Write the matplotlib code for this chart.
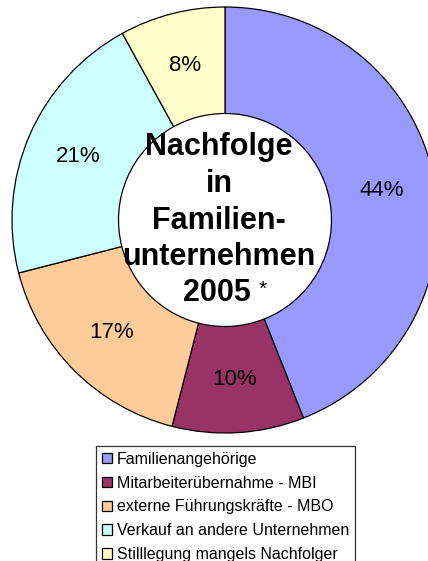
import matplotlib
matplotlib.use("Agg")
import matplotlib.pyplot as plt
from matplotlib.patches import Patch

plt.rcParams['font.family'] = ['Liberation Sans', 'DejaVu Sans']

# Daten
labels = ['Familienangehörige',
          'Mitarbeiterübernahme - MBI',
          'externe Führungskräfte - MBO',
          'Verkauf an andere Unternehmen',
          'Stilllegung mangels Nachfolger']
values = [44, 10, 17, 21, 8]
colors = ['#9999FF', '#993366', '#FFCC99', '#CCFFFF', '#FFFFCC']
title_lines = ['Nachfolge', 'in', 'Familien-', 'unternehmen']
title_year = '2005'

W, H = 428, 561
fig = plt.figure(figsize=(W / 100, H / 100), dpi=100)
ax = fig.add_axes([0, 0, 1, 1])

cx, cy, r = 225, H - 220, 213
ax.pie(values, colors=colors, startangle=90, counterclock=False,
       center=(cx, cy), radius=r, frame=True,
       autopct='%1.0f%%', pctdistance=0.75,
       textprops={'fontsize': 16, 'color': 'black'},
       wedgeprops={'width': r * 0.5, 'edgecolor': 'black', 'linewidth': 0.9})

ax.set_xlim(0, W)
ax.set_ylim(0, H)
ax.set_aspect('equal')
ax.axis('off')

# Titel in der Mitte
line_y = [147, 184, 221, 257]
for txt, y in zip(title_lines, line_y):
    ax.text(219, H - y, txt, ha='center', va='center',
            fontsize=22, fontweight='bold')
ax.text(217, H - 293, title_year, ha='center', va='center',
        fontsize=22, fontweight='bold')
ax.text(263, H - 289, '*', ha='center', va='center', fontsize=15)

handles = [Patch(facecolor=c, edgecolor='black', linewidth=0.9) for c in colors]
leg = fig.legend(handles, labels, loc='upper left',
                 bbox_to_anchor=(96 / W, 1 - 446 / H),
                 fontsize=11.5, frameon=True, fancybox=False,
                 handlelength=0.65, handleheight=0.65, handletextpad=0.3,
                 borderpad=0.35, labelspacing=0.56, borderaxespad=0)
leg.get_frame().set_edgecolor('black')
leg.get_frame().set_linewidth(0.9)

fig.savefig('out.png', dpi=100)
